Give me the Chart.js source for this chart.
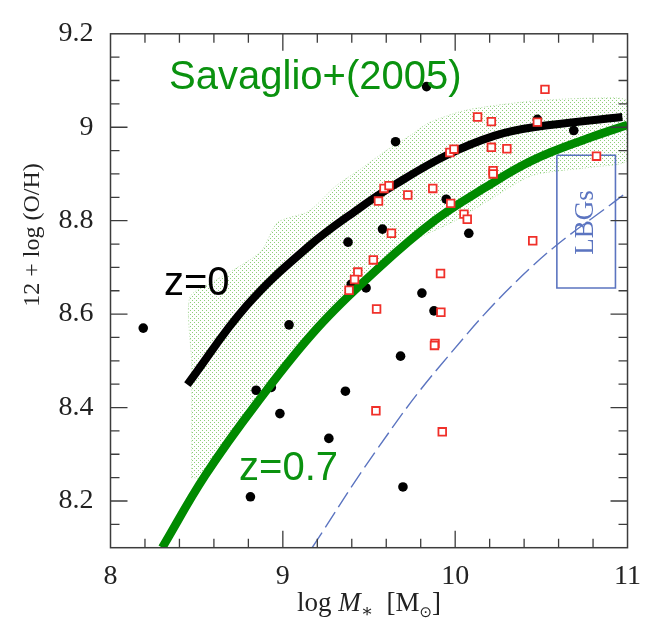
<!DOCTYPE html>
<html><head><meta charset="utf-8">
<script src="https://cdn.jsdelivr.net/npm/chart.js@4.4.1/dist/chart.umd.min.js"></script>
<style>html,body{margin:0;padding:0;background:#fff}#wrap{width:653px;height:624px}</style>
</head><body><div id="wrap"><canvas id="c" width="653" height="624"></canvas></div>
<script>
// ---- tick labels ----
const xTickLabels = ['8', '9', '10', '11'];
const yTickLabels = ['8.2', '8.4', '8.6', '8.8', '9', '9.2'];

// ---- black filled circles ----
const dotsX = [8.19, 9.834, 9.654, 10.477, 10.688, 9.948, 9.55, 9.578, 9.378, 10.079, 9.397, 9.483,
               9.807, 9.877, 9.683, 9.363, 9.036, 8.845, 8.933, 8.983, 9.267, 8.812, 9.697];
const dotsY = [8.57, 9.087, 8.969, 9.017, 8.993, 8.846, 8.851, 8.782, 8.754, 8.773, 8.664, 8.656,
               8.645, 8.607, 8.51, 8.435, 8.577, 8.437, 8.443, 8.387, 8.334, 8.209, 8.23];

// ---- red open squares ----
const sqX = [10.13, 10.21, 9.969, 9.993, 10.21, 10.30, 10.22, 10.22, 9.587, 9.616, 9.725, 9.87, 9.555,
             9.974, 9.63, 10.051, 10.07, 9.525, 9.435, 9.416, 9.384, 9.915, 9.544, 9.917, 9.883, 9.88,
             9.54, 9.925, 10.45, 10.521, 10.477, 10.82];
const sqY = [9.022, 9.012, 8.946, 8.953, 8.957, 8.954, 8.907, 8.900, 8.869, 8.875, 8.855, 8.869, 8.842,
             8.837, 8.773, 8.814, 8.803, 8.716, 8.690, 8.674, 8.651, 8.687, 8.611, 8.604, 8.537, 8.533,
             8.393, 8.348, 8.757, 9.081, 9.011, 8.938];

// ---- z=0 relation (black) ----
const z0X = [8.446, 8.79, 9.15, 9.43, 9.65, 9.95, 10.23, 10.454, 10.97];
const z0Y = [8.449, 8.618, 8.745, 8.823, 8.877, 8.94, 8.982, 9.0, 9.022];

// ---- z=0.7 relation (green) ----
const z07X = [8.30, 8.55, 8.85, 9.2, 9.56, 9.88, 10.17, 10.454, 10.8, 11.0];
const z07Y = [8.10, 8.255, 8.41, 8.57, 8.70, 8.80, 8.87, 8.93, 8.98, 9.005];

// ---- LBG relation (blue dashed) ----
const lbgLineX = [9.17, 9.54, 9.914, 10.44, 11.0];
const lbgLineY = [8.10, 8.307, 8.49, 8.70, 8.862];

// ---- Savaglio+(2005) scatter envelope (closed outline) ----
const shadeX = [8.47, 8.47, 8.46, 8.6, 8.87, 8.97, 9.15, 9.31, 9.45, 9.6, 9.75, 9.85, 10.07, 10.45, 10.8, 11.0,
                11.0, 10.8, 10.45, 10.2, 10.0, 9.75, 9.5, 9.3, 9.1, 8.93, 8.83, 8.56, 8.47];
const shadeY = [8.25, 8.50, 8.636, 8.67, 8.733, 8.796, 8.82, 8.875, 8.91, 8.95, 8.985, 9.01, 9.037, 9.056, 9.062, 9.055,
                8.93, 8.915, 8.897, 8.845, 8.80, 8.755, 8.685, 8.62, 8.54, 8.46, 8.405, 8.25, 8.25];

// ---- LBGs box outline ----
const boxX = [10.59, 10.93, 10.93, 10.59, 10.59];
const boxY = [8.94, 8.94, 8.656, 8.656, 8.94];

const pts = (xs, ys) => xs.map((x, i) => ({x, y: ys[i]}));

// stipple pattern for the envelope
const pc = document.createElement('canvas'); pc.width = 4; pc.height = 4;
const pg = pc.getContext('2d');
pg.fillStyle = 'rgb(142,206,122)';
pg.fillRect(0, 0, 1, 1); pg.fillRect(2, 2, 1, 1);
const stipple = pg.createPattern(pc, 'repeat');

const SERIF = '"Liberation Serif", "DejaVu Serif", serif';
const FRAME = '#3c3c3c';

const decor = {
  id: 'decor',
  afterDatasetsDraw(chart) {
    const {ctx, chartArea: a, scales: {x, y}} = chart;
    ctx.save();
    ctx.textBaseline = 'alphabetic'; ctx.textAlign = 'left';
    ctx.font = '40px "Liberation Sans", Arial, sans-serif';
    ctx.fillStyle = '#0a920f';
    ctx.fillText('Savaglio+(2005)', x.getPixelForValue(8.34), y.getPixelForValue(9.081));
    ctx.fillText('z=0.7', x.getPixelForValue(8.746), y.getPixelForValue(8.245));
    ctx.fillStyle = '#000';
    ctx.fillText('z=0', x.getPixelForValue(8.31), y.getPixelForValue(8.64));
    ctx.save();
    ctx.translate(x.getPixelForValue(10.76), y.getPixelForValue(8.796));
    ctx.rotate(-Math.PI / 2);
    ctx.font = '27px ' + SERIF; ctx.fillStyle = '#5b74c0';
    ctx.textAlign = 'center'; ctx.textBaseline = 'middle';
    ctx.fillText('LBGs', 0, 0);
    ctx.restore();
    ctx.strokeStyle = FRAME; ctx.lineWidth = 1.5;
    ctx.strokeRect(a.left, a.top, a.right - a.left, a.bottom - a.top);
    ctx.lineWidth = 1.3;
    ctx.beginPath();
    for (let i = 1; i < 15; i++) {
      const v = 8 + i * 0.2, p = x.getPixelForValue(v), L = (i % 5 === 0) ? 17 : 9;
      ctx.moveTo(p, a.bottom); ctx.lineTo(p, a.bottom - L);
      ctx.moveTo(p, a.top); ctx.lineTo(p, a.top + L);
    }
    for (let i = 1; i < 22; i++) {
      const v = 8.1 + i * 0.05, p = y.getPixelForValue(v), L = ((i - 2) % 4 === 0) ? 17 : 9;
      ctx.moveTo(a.left, p); ctx.lineTo(a.left + L, p);
      ctx.moveTo(a.right, p); ctx.lineTo(a.right - L, p);
    }
    ctx.stroke();
    const parts = [
      ['log ', 'normal 27px ' + SERIF, 0],
      ['M', 'italic 27px ' + SERIF, 0],
      ['\u2217', 'normal 18px ' + SERIF, 6],
      ['  [M', 'normal 27px ' + SERIF, 0],
      ['\u2299', 'normal 15px "DejaVu Sans", ' + SERIF, 6],
      [']', 'normal 27px ' + SERIF, 0]
    ];
    let w = 0;
    parts.forEach(p => { ctx.font = p[1]; w += ctx.measureText(p[0]).width; });
    let cx = (a.left + a.right) / 2 - w / 2;
    ctx.fillStyle = '#222'; ctx.textAlign = 'left'; ctx.textBaseline = 'alphabetic';
    parts.forEach(p => { ctx.font = p[1]; ctx.fillText(p[0], cx, 611 + p[2]); cx += ctx.measureText(p[0]).width; });
    ctx.save();
    ctx.translate(33, 235); ctx.rotate(-Math.PI / 2);
    ctx.font = '24px ' + SERIF; ctx.textAlign = 'center'; ctx.textBaseline = 'middle';
    ctx.fillText('12 + log (O/H)', 0, 0);
    ctx.restore();
    ctx.restore();
  }
};

const labelOf = (labels) => (v) => { const f = labels.find(l => Math.abs(+l - v) < 1e-9); return f === undefined ? '' : f; };

new Chart(document.getElementById('c'), {
  type: 'scatter',
  data: {
    datasets: [
      { type: 'line', data: pts(shadeX, shadeY), fill: 'shape', backgroundColor: stipple,
        borderColor: 'rgba(140,205,120,0.6)', borderWidth: 1, borderDash: [1, 2], pointRadius: 0, tension: 0.25, order: 20 },
      { type: 'line', data: pts(lbgLineX, lbgLineY), borderColor: '#5b74c0', borderWidth: 1.4, borderDash: [18, 6],
        pointRadius: 0, fill: false, tension: 0.4, order: 19 },
      { type: 'line', data: pts(boxX, boxY), borderColor: '#5b74c0', borderWidth: 1.6, pointRadius: 0, fill: false, tension: 0, order: 18 },
      { data: pts(dotsX, dotsY), pointStyle: 'circle', pointRadius: 4.8, backgroundColor: '#000', borderColor: '#000', borderWidth: 0, order: 12 },
      { type: 'line', data: pts(z0X, z0Y), borderColor: '#000', borderWidth: 8, pointRadius: 0, fill: false,
        tension: 0.4, borderCapStyle: 'butt', order: 10 },
      { type: 'line', data: pts(z07X, z07Y), borderColor: '#008a00', borderWidth: 8.5, pointRadius: 0, fill: false,
        tension: 0.4, borderCapStyle: 'butt', order: 9 },
      { data: pts(sqX, sqY), pointStyle: 'rect', pointRadius: 5.4, backgroundColor: '#fff', borderColor: '#f0302a', borderWidth: 1.8, order: 5 }
    ]
  },
  options: {
    responsive: false, animation: false, devicePixelRatio: 1,
    layout: { padding: { left: 0, top: 19, right: 17.3, bottom: 0 } },
    plugins: { legend: { display: false }, tooltip: { enabled: false }, title: { display: false } },
    scales: {
      x: {
        type: 'linear', min: 8, max: 11,
        afterBuildTicks: s => { s.ticks = xTickLabels.map(l => ({value: +l})); },
        afterFit: s => { s.height = 76.3; },
        grid: { display: false, drawTicks: false }, border: { display: false },
        ticks: { callback: labelOf(xTickLabels), font: { family: SERIF, size: 28 }, color: '#222', padding: 12, maxRotation: 0, autoSkip: false }
      },
      y: {
        type: 'linear', min: 8.1, max: 9.2,
        afterBuildTicks: s => { s.ticks = yTickLabels.map(l => ({value: +l})); },
        afterFit: s => { s.width = 110.5; },
        grid: { display: false, drawTicks: false }, border: { display: false },
        ticks: { callback: labelOf(yTickLabels), font: { family: SERIF, size: 28 }, color: '#222', padding: 17, autoSkip: false }
      }
    }
  },
  plugins: [decor]
});
</script></body></html>
